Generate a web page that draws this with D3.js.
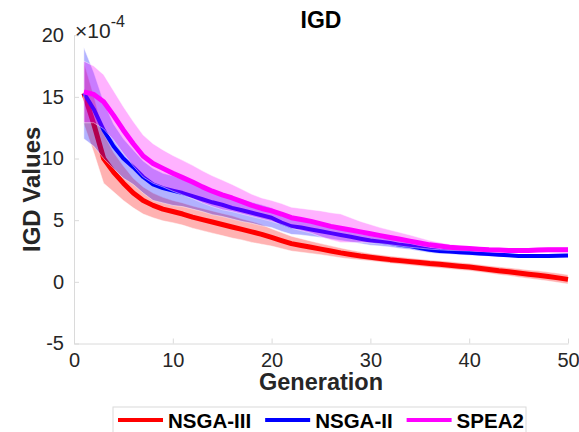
<!DOCTYPE html>
<html>
<head>
<meta charset="utf-8">
<script src="https://cdn.jsdelivr.net/npm/d3@7"></script>
<style>
  body { margin: 0; background: #fff; }
  text { font-family: "Liberation Sans", Arial, Helvetica, sans-serif; }
</style>
</head>
<body>
<div id="chart"></div>
<script>
// generations 1..50
var generations = d3.range(1, 51);

// mean IGD (x1e-4) per generation
var nsga3Mean = [15.3, 12.8, 10.0, 8.9, 8.0, 7.2, 6.6, 6.2, 5.9, 5.7,
    5.5, 5.25, 5.05, 4.85, 4.65, 4.45, 4.25, 4.05, 3.85, 3.6,
    3.35, 3.1, 2.95, 2.8, 2.65, 2.5, 2.35, 2.22, 2.1, 2.0,
    1.9, 1.8, 1.72, 1.64, 1.56, 1.48, 1.42, 1.35, 1.27, 1.2,
    1.1, 1.0, 0.9, 0.82, 0.72, 0.62, 0.53, 0.43, 0.32, 0.2];
var nsga3Std = [2.5, 2.3, 2.0, 1.6, 1.4, 1.2, 1.1, 1.0, 0.95, 0.9,
    0.9, 0.9, 0.9, 0.9, 0.9, 0.9, 0.85, 0.85, 0.8, 0.7,
    0.65, 0.6, 0.55, 0.5, 0.45, 0.42, 0.4, 0.36, 0.33, 0.3,
    0.3, 0.3, 0.3, 0.3, 0.3, 0.3, 0.3, 0.3, 0.3, 0.3,
    0.3, 0.31, 0.32, 0.33, 0.34, 0.35, 0.36, 0.37, 0.38, 0.38];

var nsga2Mean = [15.3, 14.0, 12.3, 11.0, 10.0, 9.3, 8.5, 7.9, 7.6, 7.4,
    7.2, 6.95, 6.7, 6.45, 6.25, 6.0, 5.8, 5.6, 5.4, 5.2,
    4.8, 4.5, 4.4, 4.25, 4.1, 3.95, 3.8, 3.65, 3.5, 3.35,
    3.25, 3.15, 3.0, 2.9, 2.75, 2.6, 2.5, 2.45, 2.4, 2.35,
    2.3, 2.25, 2.2, 2.15, 2.1, 2.1, 2.1, 2.1, 2.12, 2.14];
var nsga2Std = [3.7, 3.0, 2.3, 1.8, 1.6, 1.4, 1.3, 1.3, 1.2, 1.2,
    1.1, 1.05, 1.0, 1.0, 0.95, 0.9, 0.9, 0.85, 0.85, 0.8,
    0.7, 0.65, 0.6, 0.55, 0.5, 0.48, 0.45, 0.42, 0.4, 0.38,
    0.35, 0.33, 0.3, 0.28, 0.26, 0.24, 0.22, 0.2, 0.2, 0.2,
    0.18, 0.17, 0.16, 0.15, 0.15, 0.15, 0.15, 0.15, 0.15, 0.15];

var spea2Mean = [15.4, 15.2, 14.6, 13.5, 12.3, 11.2, 10.2, 9.6, 9.2, 8.8,
    8.45, 8.1, 7.7, 7.35, 7.05, 6.8, 6.5, 6.2, 5.95, 5.75,
    5.5, 5.2, 5.05, 4.9, 4.7, 4.5, 4.35, 4.2, 4.05, 3.9,
    3.75, 3.6, 3.45, 3.3, 3.15, 3.0, 2.9, 2.8, 2.75, 2.7,
    2.65, 2.6, 2.58, 2.55, 2.55, 2.55, 2.58, 2.6, 2.6, 2.6];
var spea2Std = [2.5, 2.3, 2.2, 2.0, 1.9, 1.8, 1.7, 1.6, 1.5, 1.45,
    1.4, 1.35, 1.3, 1.25, 1.2, 1.1, 1.0, 0.9, 0.85, 0.85,
    0.85, 0.85, 0.9, 0.95, 1.05, 1.1, 1.15, 1.0, 0.85, 0.75,
    0.65, 0.6, 0.55, 0.5, 0.42, 0.35, 0.3, 0.25, 0.22, 0.2,
    0.18, 0.18, 0.18, 0.18, 0.2, 0.2, 0.2, 0.2, 0.22, 0.22];

var seriesNames = ["NSGA-III", "NSGA-II", "SPEA2"];
var seriesColors = ["#ff0000", "#0000ff", "#ff00ff"];
var xTicks = [0, 10, 20, 30, 40, 50];
var yTicks = [-5, 0, 5, 10, 15, 20];

var width = 579, height = 432;
var margin = {left: 74, right: 11, top: 35.2, bottom: 88.5};
var plotW = width - margin.left - margin.right;
var plotH = height - margin.top - margin.bottom;

var svg = d3.select("#chart").append("svg")
    .attr("width", width)
    .attr("height", height);

var g = svg.append("g")
    .attr("transform", `translate(${margin.left},${margin.top})`);

var xScale = d3.scaleLinear().domain([0, 50]).range([0, plotW]);
var yScale = d3.scaleLinear().domain([-5, 20]).range([plotH, 0]);

// axes (MATLAB style: light gray lines, ticks pointing inward, plain hyphen minus)
var xAxis = g.append("g")
    .attr("transform", `translate(0,${plotH})`)
    .call(d3.axisBottom(xScale).tickValues(xTicks).tickFormat(function (d) { return String(d); })
        .tickSizeInner(-5).tickSizeOuter(0).tickPadding(9));
var yAxis = g.append("g")
    .call(d3.axisLeft(yScale).tickValues(yTicks).tickFormat(function (d) { return String(d); })
        .tickSizeInner(-5).tickSizeOuter(0).tickPadding(10));

[xAxis, yAxis].forEach(function (ax) {
    ax.select(".domain").attr("stroke", "#dadada").attr("stroke-width", 1);
    ax.selectAll(".tick line").attr("stroke", "#dadada");
    ax.selectAll(".tick text")
        .attr("fill", "#262626")
        .style("font-size", "20px")
        .style("font-family", "'Liberation Sans', Arial, sans-serif");
});

// exponent label
var expo = g.append("text")
    .attr("x", 1)
    .attr("y", 3)
    .attr("fill", "#262626")
    .style("font-size", "21px");
expo.append("tspan").text("\u00d710");
expo.append("tspan").attr("dy", -11.5).style("font-size", "16px").text("-4");

// series: band then mean line, in legend order
var means = [nsga3Mean, nsga2Mean, spea2Mean];
var stds = [nsga3Std, nsga2Std, spea2Std];

var area = d3.area()
    .x(function (d) { return xScale(d.gen); })
    .y0(function (d) { return yScale(d.mean - d.std); })
    .y1(function (d) { return yScale(d.mean + d.std); });
var line = d3.line()
    .x(function (d) { return xScale(d.gen); })
    .y(function (d) { return yScale(d.mean); });
var lineWidths = [5, 4, 5];

means.forEach(function (m, k) {
    var pts = generations.map(function (gen, i) {
        return {gen: gen, mean: m[i], std: stds[k][i]};
    });
    g.append("path")
        .datum(pts)
        .attr("d", area)
        .attr("fill", seriesColors[k])
        .attr("fill-opacity", 0.3)
        .attr("stroke", "#ffffff")
        .attr("stroke-opacity", 0.6)
        .attr("stroke-width", 0.8);
    g.append("path")
        .datum(pts)
        .attr("d", line)
        .attr("fill", "none")
        .attr("stroke", seriesColors[k])
        .attr("stroke-width", lineWidths[k])
        .attr("stroke-linejoin", "round");
});

// title and axis labels
svg.append("text")
    .attr("x", margin.left + plotW / 2)
    .attr("y", 28)
    .attr("text-anchor", "middle")
    .attr("font-weight", "bold")
    .attr("fill", "#000")
    .style("font-size", "23px")
    .text("IGD");

svg.append("text")
    .attr("x", margin.left + plotW / 2)
    .attr("y", 390)
    .attr("text-anchor", "middle")
    .attr("font-weight", "bold")
    .attr("fill", "#262626")
    .style("font-size", "23.5px")
    .text("Generation");

svg.append("text")
    .attr("transform", `translate(40,${margin.top + plotH / 2}) rotate(-90)`)
    .attr("text-anchor", "middle")
    .attr("font-weight", "bold")
    .attr("fill", "#262626")
    .style("font-size", "24px")
    .text("IGD Values");

// legend
var legend = svg.append("g").attr("transform", "translate(113,407)");
legend.append("rect")
    .attr("x", 0).attr("y", 0)
    .attr("width", 413).attr("height", 34)
    .attr("fill", "#fff")
    .attr("stroke", "#dadada");

var cursor = 5;
seriesNames.forEach(function (name, k) {
    legend.append("line")
        .attr("x1", cursor).attr("x2", cursor + 45)
        .attr("y1", 13).attr("y2", 13)
        .attr("stroke", seriesColors[k])
        .attr("stroke-width", 4);
    var t = legend.append("text")
        .attr("x", cursor + 50)
        .attr("y", 21)
        .attr("font-weight", "bold")
        .attr("fill", "#000")
        .style("font-size", "20.5px")
        .text(name);
    cursor += 50 + t.node().getComputedTextLength() + 14;
});
</script>
</body>
</html>
